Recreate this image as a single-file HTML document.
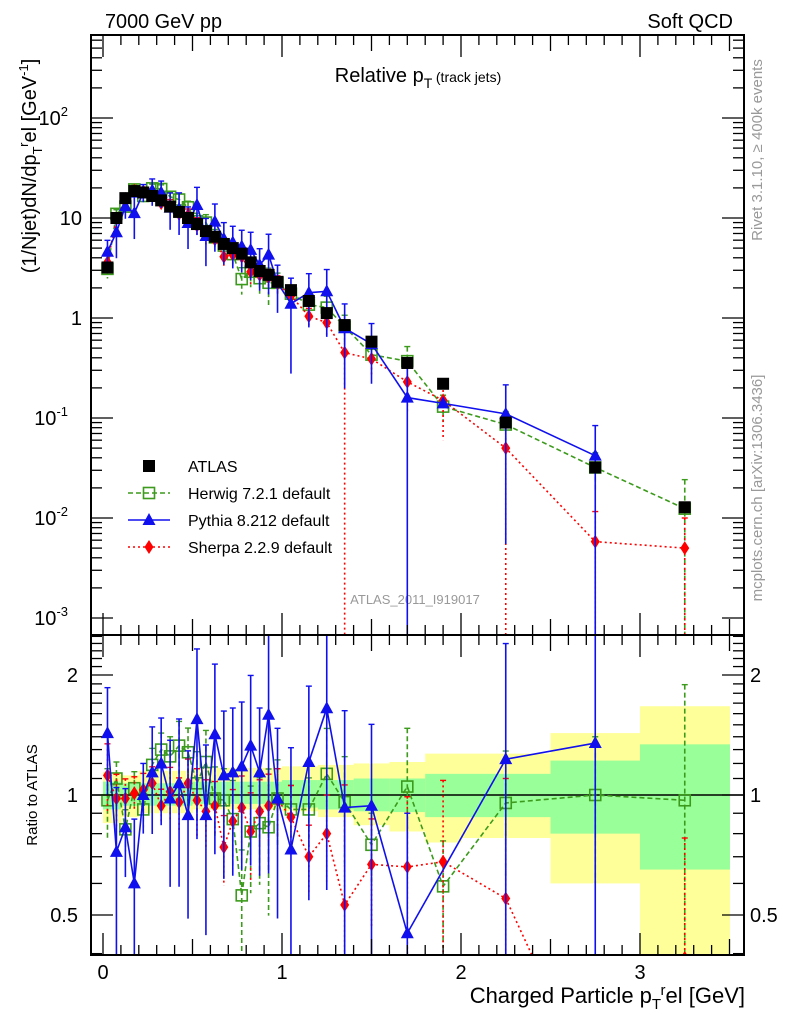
<!DOCTYPE html>
<html><head><meta charset="utf-8"><style>
html,body{margin:0;padding:0;background:#fff;overflow:hidden;width:786px;height:1024px}
svg{display:block;font-family:"Liberation Sans","DejaVu Sans",sans-serif}
</style></head><body>
<svg id="chart" width="786" height="1024" viewBox="0 0 786 1024" xmlns="http://www.w3.org/2000/svg">
<defs>
<clipPath id="clipMain"><rect x="91" y="35" width="653" height="600"/></clipPath>
<clipPath id="clipRatio"><rect x="91" y="635" width="653" height="320"/></clipPath>
</defs>
<text x="105" y="28" font-size="20" textLength="117" lengthAdjust="spacingAndGlyphs">7000 GeV pp</text>
<text x="733" y="28" font-size="20" text-anchor="end">Soft QCD</text>
<text x="418" y="82" font-size="20" text-anchor="middle">Relative p<tspan font-size="14" dy="6">T</tspan><tspan font-size="14" dy="-6"> (track jets)</tspan></text>
<text x="415" y="604" font-size="13" fill="#999" text-anchor="middle">ATLAS_2011_I919017</text>
<text transform="translate(762,150) rotate(-90)" font-size="15" fill="#999" text-anchor="middle">Rivet 3.1.10, ≥ 400k events</text>
<text transform="translate(762,488) rotate(-90)" font-size="15" fill="#999" text-anchor="middle">mcplots.cern.ch [arXiv:1306.3436]</text>
<text transform="translate(36,166) rotate(-90)" font-size="20" text-anchor="middle">(1/Njet)dN/dp<tspan font-size="13" dy="6">T</tspan><tspan font-size="13" dy="-14">r</tspan><tspan dy="8">el [GeV</tspan><tspan font-size="13" dy="-8">-1</tspan><tspan dy="8">]</tspan></text>
<text transform="translate(37,795) rotate(-90)" font-size="15" text-anchor="middle">Ratio to ATLAS</text>
<text x="745" y="1003" font-size="22" text-anchor="end">Charged Particle p<tspan font-size="15" dy="6">T</tspan><tspan font-size="15" dy="-14">r</tspan><tspan dy="8">el [GeV]</tspan></text>
<g id="bands" clip-path="url(#clipRatio)"></g>
<g id="ratioMarks" clip-path="url(#clipRatio)"></g>
<g id="mainMarks" clip-path="url(#clipMain)"></g>
<g id="axes"></g>
<g id="legend"></g>
</svg>
<script>
// ---- data ----
const xVals=[0.025,0.075,0.125,0.175,0.225,0.275,0.325,0.375,0.425,0.475,0.525,0.575,0.625,0.675,0.725,0.775,0.825,0.875,0.925,0.975,1.05,1.15,1.25,1.35,1.5,1.7,1.9,2.25,2.75,3.25];
const atlasVals=[3.2,10,15.8,18.6,18,16.6,15,13,11.5,10,8.7,7.4,6.5,5.5,5,4.4,3.6,2.95,2.7,2.3,1.9,1.48,1.12,0.85,0.58,0.355,0.22,0.09,0.032,0.0128];
const herwigVals=[3.1,11,13,19.3,16.6,19.8,19.5,16.3,15.3,12.8,9.3,9.0,6.4,5.3,4.35,2.45,2.9,2.5,2.25,2.25,1.75,1.36,1.27,0.82,0.43,0.37,0.13,0.086,0.032,0.0124];
const pythiaVals=[4.6,7.2,13.1,11.2,18,18.9,18,12.7,12.3,8.9,13.5,6.6,9.2,6.2,5.7,5.2,4.8,3.4,4.3,2.25,1.39,1.79,1.85,0.79,0.55,0.16,0.14,0.11,0.042,null];
const sherpaVals=[3.6,9.8,15.5,18.8,18.5,17.8,14.1,13.3,11,10.7,8.4,6.7,6.1,4.1,4.3,4.1,2.9,2.7,2.55,2.2,1.67,1.04,0.9,0.45,0.39,0.23,0.15,0.05,0.0058,0.005];
const herwigRatio=[0.97,1.10,0.82,1.04,0.92,1.19,1.30,1.25,1.33,1.28,1.07,1.21,0.98,0.97,0.87,0.56,0.81,0.85,0.83,0.98,0.92,0.92,1.13,0.96,0.75,1.05,0.59,0.955,1.0,0.97];
const pythiaRatio=[1.43,0.72,0.83,0.60,1.0,1.14,1.20,0.98,1.07,0.89,1.55,0.89,1.42,1.12,1.14,1.18,1.33,1.14,1.59,0.98,0.73,1.21,1.65,0.93,0.94,0.45,null,1.23,1.35,null];
const sherpaRatio=[1.12,0.98,0.98,1.01,1.03,1.07,0.94,1.02,0.96,1.07,0.97,0.91,0.94,0.74,0.86,0.93,0.81,0.91,0.94,0.97,0.88,0.70,0.80,0.53,0.67,0.66,0.68,0.55,0.18,0.39];
const herwigErr=[0.2,0.1,0.12,0.1,0.1,0.1,0.1,0.12,0.15,0.15,0.2,0.2,0.2,0.2,0.25,0.3,0.3,0.3,0.4,0.25,0.15,0.2,0.3,0.3,0.2,0.4,0.3,0.35,0.4,0.95];
const pythiaErr=[0.3,0.45,0.25,0.45,0.2,0.3,0.3,0.4,0.45,0.45,0.5,0.5,0.5,0.45,0.45,0.45,0.5,0.45,0.6,0.5,0.8,0.55,0.65,0.75,0.6,1,0,0.95,1,0];
const sherpaErr=[0.2,0.15,0.12,0.1,0.1,0.1,0.1,0.15,0.15,0.15,0.2,0.2,0.15,0.2,0.2,0.2,0.25,0.2,0.2,0.2,0.2,0.2,0.25,1,0.3,0.5,0.6,1,1,1];
const bandEdges=[0,0.1,0.2,0.5,1.0,1.2,1.4,1.6,1.8,2.0,2.5,3.0,3.5];
const yellowHi=[1.14,1.12,1.15,1.17,1.18,1.19,1.20,1.21,1.27,1.27,1.43,1.67];
const yellowLo=[0.85,0.88,0.90,0.92,0.91,0.88,0.84,0.81,0.76,0.78,0.60,0.30];
const greenHi=[1.08,1.07,1.07,1.08,1.09,1.09,1.10,1.10,1.13,1.13,1.22,1.34];
const greenLo=[0.92,0.94,0.94,0.95,0.93,0.92,0.91,0.906,0.88,0.88,0.80,0.65];
const mainTickVals=[100,10,1,0.1,0.01,0.001];
const mainTickLabels=[["10","2"],["10",""],["1",""],["10","-1"],["10","-2"],["10","-3"]];
const ratioTickVals=[2,1,0.5];
const ratioTickLabels=["2","1","0.5"];
const xTickVals=[0,1,2,3];
const xTickLabels=["0","1","2","3"];

const NS="http://www.w3.org/2000/svg";
const L=91,R=744,T=35,MB=635,RB=955;
const sx=v=>103+179*v;
const sy=v=>318-100*Math.log10(v);
const ry=v=>795-398.6*Math.log10(v);
function mk(tag,attrs,parent){const e=document.createElementNS(NS,tag);for(const k in attrs)e.setAttribute(k,attrs[k]);parent.appendChild(e);return e;}
const axes=document.getElementById('axes');
const bands=document.getElementById('bands');
const mm=document.getElementById('mainMarks');
const rm=document.getElementById('ratioMarks');
const leg=document.getElementById('legend');

for(let i=0;i<yellowHi.length;i++){
  const x0=sx(bandEdges[i]),x1=sx(bandEdges[i+1]);
  const y=mk('rect',{x:x0,y:ry(yellowHi[i]),width:x1-x0+0.5,height:ry(yellowLo[i])-ry(yellowHi[i]),fill:'#ffff99'},bands);
  
  
  const g=mk('rect',{x:x0,y:ry(greenHi[i]),width:x1-x0+0.5,height:ry(greenLo[i])-ry(greenHi[i]),fill:'#99ff99'},bands);
  
  
}
const one=mk('line',{x1:L,x2:R,y1:ry(1),y2:ry(1),stroke:'#000','stroke-width':1.5},bands);



function marker(type,x,y,parent,color){
  let e;
  if(type==='sq') e=mk('rect',{x:x-6,y:y-6,width:12,height:12,fill:'#000'},parent);
  else if(type==='osq') e=mk('rect',{x:x-5.5,y:y-5.5,width:11,height:11,fill:'none',stroke:color,'stroke-width':1.6},parent);
  else if(type==='tri') e=mk('polygon',{points:`${x},${y-7} ${x-6.5},${y+5} ${x+6.5},${y+5}`,fill:color},parent);
  else e=mk('polygon',{points:`${x},${y-7} ${x-4.5},${y} ${x},${y+7} ${x+4.5},${y}`,fill:color},parent);
  return e;
}
function series(name,vals,errs,fy,parent,color,dash,type,bottom){
  const pts=[];
  vals.forEach((v,i)=>{if(v==null)return;pts.push([sx(xVals[i]),fy(v)]);});
  if(dash!==null){
    const pl=mk('polyline',{points:pts.map(p=>p.join(',')).join(' '),fill:'none',stroke:color,'stroke-width':1.6,'stroke-dasharray':dash},parent);
    
    
  }
  vals.forEach((v,i)=>{
    if(v==null)return;
    const x=sx(xVals[i]);
    if(errs&&errs[i]>0){
      const e=errs[i];
      const yt=fy(v*(1+e)); const yb=e>=1?bottom:fy(v*(1-e));
      const el=mk('line',{x1:x,x2:x,y1:yt,y2:yb,stroke:color,'stroke-width':1.6,'stroke-dasharray':dash||'none'},parent);
      
      
      const c1=mk('line',{x1:x-3,x2:x+3,y1:yt,y2:yt,stroke:color,'stroke-width':1.4},parent);
      
      
    }
    const m=marker(type,x,fy(v),parent,color);
    
    
  });
}
const HC='#3c9a1c',PC='#1010ee',SC='#ff0000';
series('herwig',herwigVals,herwigErr,sy,mm,HC,'5,3','osq',MB);
series('sherpa',sherpaVals,sherpaErr,sy,mm,SC,'2,3','dia',MB);
series('pythia',pythiaVals,pythiaErr,sy,mm,PC,'','tri',MB);
series('atlas',atlasVals,null,sy,mm,'#000',null,'sq',MB);
series('herwig-ratio',herwigRatio,herwigErr,ry,rm,HC,'5,3','osq',RB);
series('sherpa-ratio',sherpaRatio,sherpaErr,ry,rm,SC,'2,3','dia',RB);
series('pythia-ratio',pythiaRatio,pythiaErr,ry,rm,PC,'','tri',RB);

[[T,MB,'main-frame'],[MB,RB,'ratio-frame']].forEach(f=>{
  const r=mk('rect',{x:L,y:f[0],width:R-L,height:f[1]-f[0],fill:'none',stroke:'#000','stroke-width':2},axes);
  
  
});
function tk(x1,y1,x2,y2){mk('line',{x1,y1,x2,y2,stroke:'#000','stroke-width':1.3},axes);}
for(let k=0;k<=35;k++){
  const v=k/10,x=sx(v); if(x>R)break;
  const len=(k%10===0)?22:(k%5===0?16:10);
  tk(x,T,x,T+len);tk(x,MB,x,MB-len);tk(x,MB,x,MB+len);tk(x,RB,x,RB-len);
}
xTickVals.forEach((v,i)=>{
  const t=mk('text',{x:sx(v),y:979,'font-size':20,'text-anchor':'middle'},axes);t.textContent=xTickLabels[i];
  
  
});
for(let d=-3;d<=2;d++){for(let m=1;m<=9;m++){
  const y=sy(m*Math.pow(10,d)); if(y<T)continue;
  const len=m===1?22:11; tk(L,y,L+len,y);tk(R,y,R-len,y);
}}
mainTickVals.forEach((v,i)=>{
  const t=mk('text',{x:82,y:sy(v)+7,'font-size':20,'text-anchor':'end'},axes);
  
  
  const lb=mainTickLabels[i];
  if(lb[1]){t.setAttribute('x',68);t.textContent=lb[0];const s=document.createElementNS(NS,'tspan');s.setAttribute('font-size',13);s.setAttribute('dy',-9);s.textContent=lb[1];t.appendChild(s);}
  else t.textContent=lb[0];
});
const rminor=[0.4,0.5,0.6,0.7,0.8,0.9,1,1.1,1.2,1.3,1.4,1.5,1.6,1.7,1.8,1.9,2,2.1,2.2,2.3,2.4,2.5];
rminor.forEach(v=>{const y=ry(v);const major=ratioTickVals.includes(v);const len=major?22:11;tk(L,y,L+len,y);tk(R,y,R-len,y);});
ratioTickVals.forEach((v,i)=>{
  const t=mk('text',{x:78,y:ry(v)+7,'font-size':20,'text-anchor':'end'},axes);t.textContent=ratioTickLabels[i];
  
  
  const t2=mk('text',{x:750,y:ry(v)+7,'font-size':20},axes);t2.textContent=ratioTickLabels[i];
  
  
});
const legItems=[['ATLAS','#000','sq',null],['Herwig 7.2.1 default',HC,'osq','5,3'],['Pythia 8.212 default',PC,'tri',''],['Sherpa 2.2.9 default',SC,'dia','2,3']];
legItems.forEach((it,i)=>{
  const y=466+i*27;
  if(it[3]!==null){const l=mk('line',{x1:128,x2:170,y1:y,y2:y,stroke:it[1],'stroke-width':1.6,'stroke-dasharray':it[3]},leg);
    
    }
  const m=marker(it[2],149,y,leg,it[1]);
  
  
  const t=mk('text',{x:188,y:y+6,'font-size':16},leg);t.textContent=it[0];
  
  
});
</script>
</body></html>
